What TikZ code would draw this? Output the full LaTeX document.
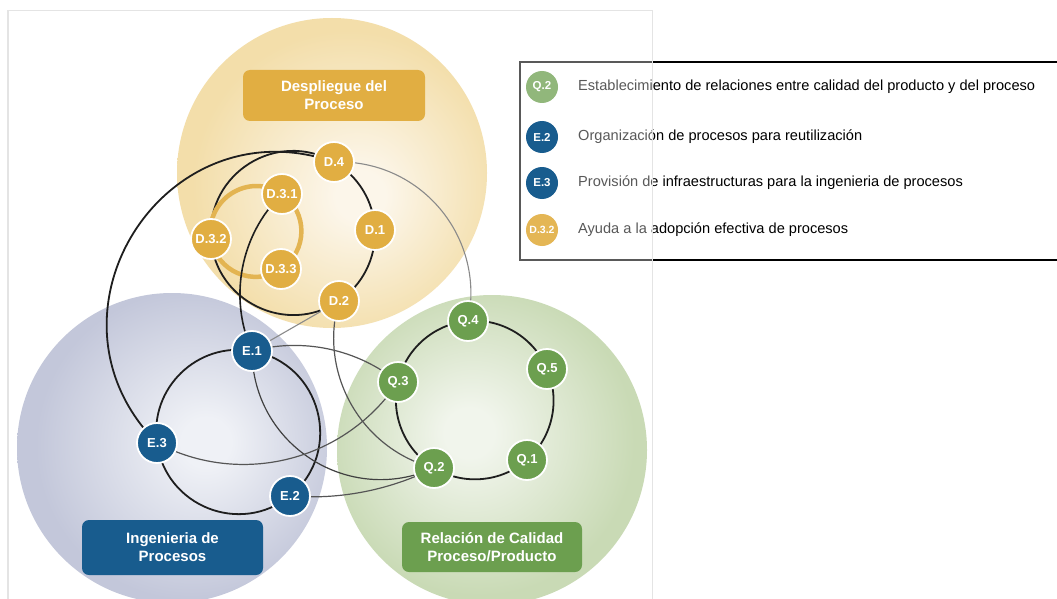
\documentclass[tikz,border=0pt]{standalone}
\usepackage{fontspec}
\setmainfont{Liberation Sans}

% palette
\definecolor{dGold}{HTML}{E1AE42}
\definecolor{eBlue}{HTML}{185C8E}
\definecolor{qGreen}{HTML}{6C9F4F}
\definecolor{ringInk}{HTML}{1E1E1E}
\definecolor{linkInk}{HTML}{555555}
\definecolor{faintInk}{HTML}{8A8A8A}
\definecolor{frameGray}{HTML}{E4E4E4}
\definecolor{ylIn}{HTML}{FCF6EA}
\definecolor{ylOut}{HTML}{F3DEAA}
\definecolor{blIn}{HTML}{EFF1F6}
\definecolor{blOut}{HTML}{C3C7DA}
\definecolor{grIn}{HTML}{F1F5EC}
\definecolor{grOut}{HTML}{C9DAB5}

% soft glow of the three area discs
\pgfdeclareradialshading{ylglow}{\pgfpoint{5bp}{-4bp}}{color(0bp)=(ylIn); color(4bp)=(ylIn); color(25bp)=(ylOut); color(50bp)=(ylOut)}
\pgfdeclareradialshading{blglow}{\pgfpoint{6bp}{1bp}}{color(0bp)=(blIn); color(4bp)=(blIn); color(25bp)=(blOut); color(50bp)=(blOut)}
\pgfdeclareradialshading{grglow}{\pgfpoint{-4bp}{3bp}}{color(0bp)=(grIn); color(4bp)=(grIn); color(25bp)=(grOut); color(50bp)=(grOut)}

\pgfdeclarelayer{areas}
\pgfdeclarelayer{links}
\pgfsetlayers{areas,links,main}

\tikzset{
  stage/.style={circle, minimum size=40pt, inner sep=0pt, draw=white, line width=1.8pt,
    text=white, font=\bfseries\fontsize{13}{13}\selectfont},
  dnode/.style={stage, fill=dGold},
  enode/.style={stage, fill=eBlue},
  qnode/.style={stage, fill=qGreen},
  ring/.style={draw=ringInk, line width=1.8pt},
  link/.style={draw=linkInk, line width=1.2pt},
  faint link/.style={draw=faintInk, line width=1.1pt},
  subring/.style={draw=dGold!92!white, line width=4.5pt},
  areabox/.style={rounded corners=7pt, text=white, align=center, inner sep=0pt,
    font=\bfseries\fontsize{15}{18}\selectfont},
  keydot/.style={circle, minimum size=32pt, inner sep=0pt, text=white,
    font=\bfseries\fontsize{11.5}{12}\selectfont},
  keytext/.style={anchor=west, inner sep=0pt, text height=10pt, text depth=3pt,
    font=\fontsize{14.6}{16}\selectfont},
}

\begin{document}
\begin{tikzpicture}[x=1pt,y=1pt]
\useasboundingbox (0,0) rectangle (1057,-599);

% ---- process nodes ----
\node[dnode] (D4)  at (334,-162) {D.4};
\node[dnode] (D1)  at (375,-230) {D.1};
\node[dnode] (D2)  at (339,-301) {D.2};
\node[dnode] (D31) at (282,-194) {D.3.1};
\node[dnode] (D32) at (211,-239) {D.3.2};
\node[dnode] (D33) at (281,-269) {D.3.3};
\node[enode] (E1)  at (252,-351) {E.1};
\node[enode] (E3)  at (157,-443) {E.3};
\node[enode] (E2)  at (290,-496) {E.2};
\node[qnode] (Q4)  at (468,-321) {Q.4};
\node[qnode] (Q5)  at (547,-369) {Q.5};
\node[qnode] (Q1)  at (527,-460) {Q.1};
\node[qnode] (Q2)  at (434,-468) {Q.2};
\node[qnode] (Q3)  at (398,-382) {Q.3};

% ---- area titles ----
\node[areabox, fill=dGold, minimum width=182pt, minimum height=51pt] (dbox) at (334,-95.5) {Despliegue del\\Proceso};
\node[areabox, fill=eBlue, minimum width=181pt, minimum height=55pt] (ebox) at (172.5,-547.5) {Ingenieria de\\Procesos};
\node[areabox, fill=qGreen, minimum width=180pt, minimum height=50pt] (qbox) at (492,-547) {Relación de Calidad\\Proceso/Producto};

% ---- area discs ----
\begin{pgfonlayer}{areas}
  \fill[white] (0,0) rectangle (1057,-599);
  \shade[shading=blglow] (172,-448) circle[radius=155];
  \shade[shading=grglow] (492,-450) circle[radius=155];
  \shade[shading=ylglow] (332,-173) circle[radius=155];
\end{pgfonlayer}

% ---- connections ----
\begin{pgfonlayer}{links}
  % deployment ring
  \draw[ring] (D4.center) to[bend left=29, looseness=0.91] (D1.center)
              to[bend left=29, looseness=0.91] (D2.center)
              to[bend left=60, looseness=1.13] (D32.center)
              to[bend left=62, looseness=1.16] (D4.center);
  % adoption sub-ring
  \draw[subring] (D31.center) to[bend left=56, looseness=1.09] (D33.center)
                 to[bend left=57.5, looseness=1.11] (D32.center)
                 to[bend left=66.5, looseness=1.22] (D31.center);
  % engineering ring
  \draw[ring] (E1.center) to[bend left=65.5, looseness=1.2] (E2.center)
              to[bend left=60.5, looseness=1.14] (E3.center)
              to[bend left=54, looseness=1.07] (E1.center);
  % quality ring
  \draw[ring] (Q4.center) to[bend left=36, looseness=0.94] (Q5.center)
              to[bend left=36, looseness=0.94] (Q1.center)
              to[bend left=36, looseness=0.94] (Q2.center)
              to[bend left=36, looseness=0.94] (Q3.center)
              to[bend left=36, looseness=0.94] (Q4.center);
  % cross-area links
  \draw[ring] (E3.center) to[bend left=77, looseness=1.39] (D4.center);
  \draw[ring, line width=1.6pt] (D31.center) to[bend right=35, looseness=0.93] (E1.center);
  \draw[faint link] (D4.center) to[bend left=52, looseness=1.06] (Q4.center);
  \draw[faint link] (E1.center) -- (D2.center);
  \draw[link] (E1.center) to[bend left=27, looseness=0.9] (Q3.center);
  \draw[link, draw=ringInk!85] (E1.center) to[bend right=57, looseness=1.11] (Q2.center);
  \draw[link] (E3.center) to[bend right=42, looseness=0.98] (Q3.center);
  \draw[link] (E2.center) to[bend right=15.5, looseness=0.87] (Q2.center);
  \draw[link] (D2.center) to[bend right=46, looseness=1.0] (Q2.center);
\end{pgfonlayer}

% ---- key ----
\node[draw=black, line width=1.6pt, fill=white, anchor=north west, minimum width=545pt, minimum height=198pt, inner sep=0pt] (key) at (519,-61) {};
\node[keytext] (tq2) at (578,-87) {Establecimiento de relaciones entre calidad del producto y del proceso};
\node[keytext] (te2) at (578,-137) {Organización de procesos para reutilización};
\node[keytext] (te3) at (578,-183) {Provisión de infraestructuras para la ingenieria de procesos};
\node[keytext] (td32) at (578,-230) {Ayuda a la adopción efectiva de procesos};

% part of the key frame and text inside the figure frame is washed out
\fill[white, opacity=0.35] (516,-57) rectangle (652,-263);

\node[keydot, fill=qGreen!75!white] (kq2) at (542,-87) {Q.2};
\node[keydot, fill=eBlue] (ke2) at (542,-137) {E.2};
\node[keydot, fill=eBlue] (ke3) at (542,-183) {E.3};
\node[keydot, fill=dGold!90!white, font=\bfseries\fontsize{10.5}{11}\selectfont] (kd32) at (542,-230) {D.3.2};

% ---- figure frame ----
\draw[frameGray, line width=1.3pt] (8,-605) |- (652.5,-10.5) -- (652.5,-605);
\end{tikzpicture}
\end{document}
